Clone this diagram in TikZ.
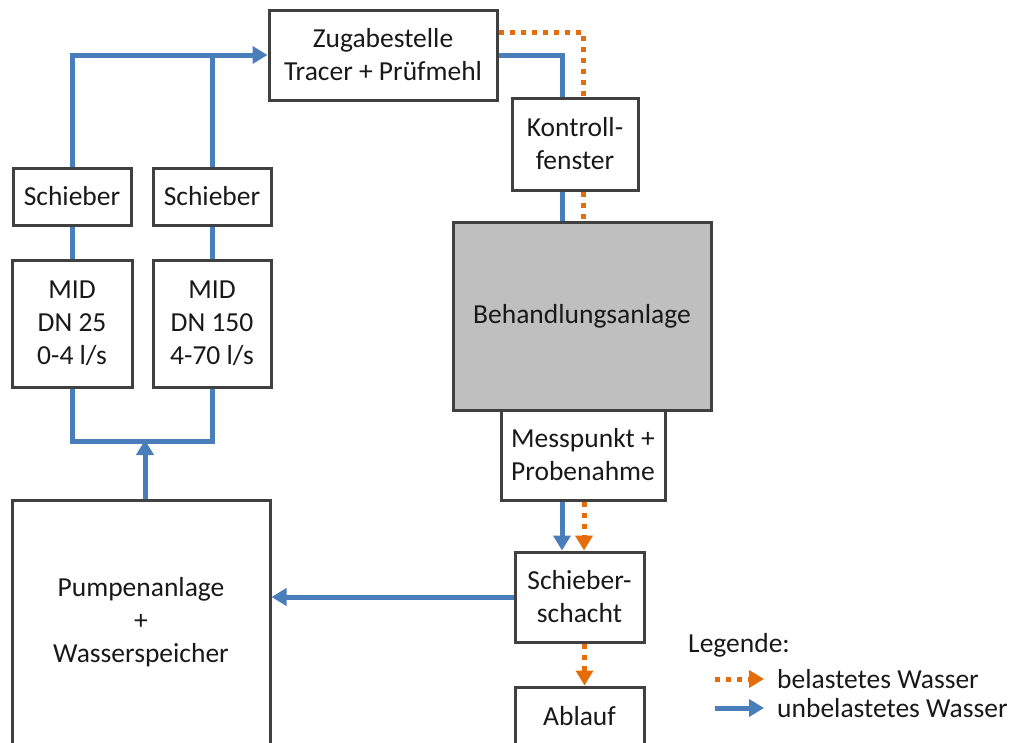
\documentclass[tikz,border=0pt]{standalone}
\usepackage{fontspec}
\setmainfont{Carlito}
\usetikzlibrary{arrows.meta}
\definecolor{wblue}{HTML}{4A7EBB}
\definecolor{worange}{HTML}{E46C0A}
\definecolor{wgray}{HTML}{BFBFBF}
\definecolor{wborder}{HTML}{404040}
\begin{document}
\begin{tikzpicture}[x=1pt,y=-1pt,
  box/.style={draw=wborder, line width=3pt, fill=white, align=center, inner sep=0pt, font=\fontsize{27.5}{33}\selectfont, text=black!90},
  legtext/.style={anchor=west, inner sep=0pt, font=\fontsize{27.5}{33}\selectfont, text=black!90},
  flowb/.style={draw=wblue, line width=5pt, line join=miter},
  flowo/.style={draw=worange, line width=5pt, dash pattern=on 5pt off 6pt},
  arrowtip/.style={-{Triangle[length=15pt,width=17pt]}}]
\useasboundingbox (0,0) rectangle (1020,742);
\clip (0,0) rectangle (1020,742);

% boxes
\node[box, minimum width=228pt, minimum height=90pt] (zug) at (383,55) {Zugabestelle\\Tracer + Prüfmehl};
\node[box, minimum width=126pt, minimum height=92pt] (kon) at (575,144) {Kontroll-\\fenster};
\node[box, fill=wgray, minimum width=258pt, minimum height=188pt] (beh) at (582,316) {Behandlungsanlage};
\node[box, minimum width=164pt, minimum height=90pt] (mess) at (583,455) {Messpunkt +\\Probenahme};
\node[box, minimum width=129pt, minimum height=90pt] (sch) at (579.5,597) {Schieber-\\schacht};
\node[box, minimum width=129pt, minimum height=58pt] (abl) at (579.5,716) {Ablauf};
\node[box, minimum width=118pt, minimum height=57pt] (s1) at (72,196.5) {Schieber};
\node[box, minimum width=118pt, minimum height=57pt] (s2) at (212,196.5) {Schieber};
\node[box, minimum width=120pt, minimum height=127pt] (m1) at (72,323.5) {MID\\DN 25\\0-4 l/s};
\node[box, minimum width=118pt, minimum height=127pt] (m2) at (212,323.5) {MID\\DN 150\\4-70 l/s};
\node[box, minimum width=258pt, minimum height=244pt] (pump) at (141,622) {Pumpenanlage\\+\\Wasserspeicher};

% legend
\node[legtext] (leg) at (688,645) {Legende:};
\node[legtext] (lo) at (777,679) {belastetes Wasser};
\node[legtext] (lb) at (777,708) {unbelastetes Wasser};
\draw[flowo, arrowtip] ([xshift=-62pt]lo.west) -- ([xshift=-13pt]lo.west);
\draw[flowb, arrowtip] ([xshift=-62pt]lb.west) -- ([xshift=-13pt]lb.west);

% left branch
\draw[flowb, arrowtip] (s1.north) -- (s1.north |- zug.west) -- (zug.west);
\draw[flowb] (s2.north) -- (s2.north |- zug.west);
\draw[flowb] (s1.south) -- (m1.north);
\draw[flowb] (s2.south) -- (m2.north);
\draw[flowb] (m1.south) -- ++(0,53) -| (m2.south);
\coordinate (j) at (145,440);
\draw[flowb, arrowtip] (pump.north -| j) -- (j);

% right branch
\draw[flowb] (zug.east) -| ([xshift=-13pt]kon.north);
\draw[flowo] ([yshift=23pt]zug.east) -| ([xshift=8pt]kon.north);
\draw[flowb] ([xshift=-13pt]kon.south) -- ([xshift=-13pt]kon.south |- beh.north);
\draw[flowo] ([xshift=8pt]kon.south) -- ([xshift=8pt]kon.south |- beh.north);
\draw[flowb, arrowtip] ([xshift=-21pt]mess.south) -- ([xshift=-21pt]mess.south |- sch.north);
\draw[flowo, arrowtip] ([xshift=1pt]mess.south) -- ([xshift=1pt]mess.south |- sch.north);
\draw[flowo, arrowtip] ([xshift=5pt]sch.south) -- ([xshift=5pt]sch.south |- abl.north);
\draw[flowb, arrowtip] (sch.west) -- (sch.west -| pump.east);
\end{tikzpicture}
\end{document}
